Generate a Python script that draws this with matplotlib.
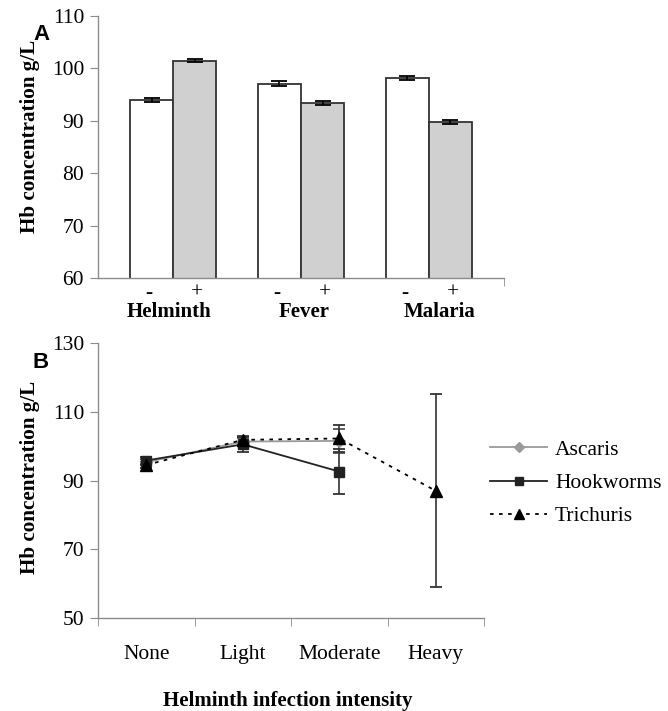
import matplotlib
matplotlib.use("Agg")
import matplotlib.pyplot as plt
from matplotlib.lines import Line2D
import numpy as np

# ---- Panel A data ----
groups = ["Helminth", "Fever", "Malaria"]
sign_labels = ["-", "+"]
neg_vals = [94.0, 97.1, 98.2]
neg_err = [0.4, 0.4, 0.4]
pos_vals = [101.5, 93.4, 89.8]
pos_err = [0.2, 0.4, 0.4]

# ---- Panel B data ----
intensity = ["None", "Light", "Moderate", "Heavy"]
ascaris = [95.3, 101.3, 101.5]
ascaris_err = [0.8, 1.0, 3.4]
hookworms = [95.8, 100.5, 92.6]
hookworms_err = [1.0, 2.2, 6.6]
trichuris = [94.5, 101.8, 102.2, 87.0]
trichuris_err = [1.0, 1.0, 3.9, 28.0]

W, H = 668, 711
fig = plt.figure(figsize=(W / 100, H / 100), dpi=100)
serif = "Liberation Serif"
sans = "Liberation Sans"
spine_c = "#8c8c8c"
edge_c = "#333333"
tick_fs = 15.5
lab_fs = 15
ylab_fs = 15.2

def frac(l, t, r, b):
    return [l / W, 1 - b / H, (r - l) / W, (b - t) / H]

# ---------------- Panel A ----------------
axA = fig.add_axes(frac(98, 16, 504, 278))
x = np.arange(len(groups))
bw = 0.336
ekA = dict(ecolor="black", capsize=6, elinewidth=1.2, capthick=1.3)
axA.bar(x - bw / 2, neg_vals, bw, color="white", edgecolor=edge_c, linewidth=1.3,
        yerr=neg_err, error_kw=ekA)
axA.bar(x + bw / 2, pos_vals, bw, color="#d0d0d0", edgecolor=edge_c, linewidth=1.3,
        yerr=pos_err, error_kw=ekA)
axA.set_ylim(60, 110)
axA.set_xlim(-0.586, 2.586)
axA.set_yticks([60, 70, 80, 90, 100, 110])
xt = np.concatenate([[xi - bw / 2 - 0.02, xi + bw / 2 + 0.02] for xi in x])
axA.set_xticks(xt)
axA.set_xticklabels(sign_labels * len(groups), fontfamily=serif, fontsize=tick_fs)
axA.tick_params(axis="x", length=0, pad=4)
axA.set_xticks([2.586], minor=True)
axA.tick_params(axis="x", which="minor", length=6, color=spine_c, direction="out")
axA.tick_params(axis="y", length=6, color=spine_c, direction="out", labelsize=tick_fs, pad=4)
for lab in axA.get_yticklabels():
    lab.set_fontfamily(serif)
for s in ["top", "right"]:
    axA.spines[s].set_visible(False)
for s in ["left", "bottom"]:
    axA.spines[s].set_color(spine_c)
    axA.spines[s].set_linewidth(1.0)
for i, g in enumerate(groups):
    axA.text((i + 0.5) / len(groups) + 0.008, -0.13, g, transform=axA.transAxes,
             ha="center", va="center", fontfamily=serif, fontweight="bold", fontsize=lab_fs)

fig.text(30 / W, 1 - 136 / H, "Hb concentration g/L", rotation=90, ha="center", va="center",
         fontfamily=serif, fontweight="bold", fontsize=ylab_fs)
fig.text(41 / W, 1 - 35 / H, "A", ha="center", va="center", fontfamily=sans,
         fontweight="bold", fontsize=16)

# ---------------- Panel B ----------------
axB = fig.add_axes(frac(98, 342.7, 484, 618.3))
xb = np.arange(len(intensity))
ek = dict(capsize=4, elinewidth=1.2, capthick=1.3)
axB.errorbar(xb[:len(ascaris)], ascaris, yerr=ascaris_err, color="#9a9a9a", marker="D",
             markersize=6, linewidth=1.3, ecolor="#555555", label="Ascaris", **ek)
axB.errorbar(xb[:len(hookworms)], hookworms, yerr=hookworms_err, color="#222222", marker="s",
             markersize=7, linewidth=1.3, ecolor="#333333", label="Hookworms", **ek)
axB.errorbar(xb[:len(trichuris)], trichuris, yerr=trichuris_err, color="black", marker="^",
             markersize=8, linewidth=1.3, linestyle=(0, (2, 3)), ecolor="#333333",
             label="Trichuris", **ek)
axB.set_ylim(50, 130)
axB.set_xlim(-0.5, 3.5)
axB.set_yticks([50, 70, 90, 110, 130])
axB.set_xticks(xb)
axB.set_xticklabels(intensity, fontfamily=serif, fontsize=tick_fs)
axB.tick_params(axis="x", length=0, pad=19)
axB.set_xticks(np.arange(-0.5, 3.6, 1.0), minor=True)
axB.tick_params(axis="x", which="minor", length=6, color=spine_c, direction="out")
axB.tick_params(axis="y", length=6, color=spine_c, direction="out", labelsize=tick_fs, pad=4)
for lab in axB.get_yticklabels():
    lab.set_fontfamily(serif)
for s in ["top", "right"]:
    axB.spines[s].set_visible(False)
for s in ["left", "bottom"]:
    axB.spines[s].set_color(spine_c)
    axB.spines[s].set_linewidth(1.0)
fig.text(288 / W, 1 - 701 / H, "Helminth infection intensity", ha="center", va="center",
         fontfamily=serif, fontweight="bold", fontsize=lab_fs)

handles = [
    Line2D([], [], color="#9a9a9a", marker="D", markersize=5, linewidth=1.3, label="Ascaris"),
    Line2D([], [], color="#222222", marker="s", markersize=6, linewidth=1.3, label="Hookworms"),
    Line2D([], [], color="black", marker="^", markersize=7, linewidth=1.3,
           linestyle=(0, (2, 3)), label="Trichuris"),
]
fig.legend(handles=handles, loc="center left", bbox_to_anchor=(490 / W, 1 - 483 / H),
           frameon=False, prop={"family": serif, "size": 15.5}, handlelength=2.65,
           handletextpad=0.37, labelspacing=0.62, borderaxespad=0, borderpad=0)

fig.text(30 / W, 1 - 477 / H, "Hb concentration g/L", rotation=90, ha="center", va="center",
         fontfamily=serif, fontweight="bold", fontsize=ylab_fs)
fig.text(41 / W, 1 - 362 / H, "B", ha="center", va="center", fontfamily=sans,
         fontweight="bold", fontsize=16)

fig.savefig("out.png", dpi=100)
